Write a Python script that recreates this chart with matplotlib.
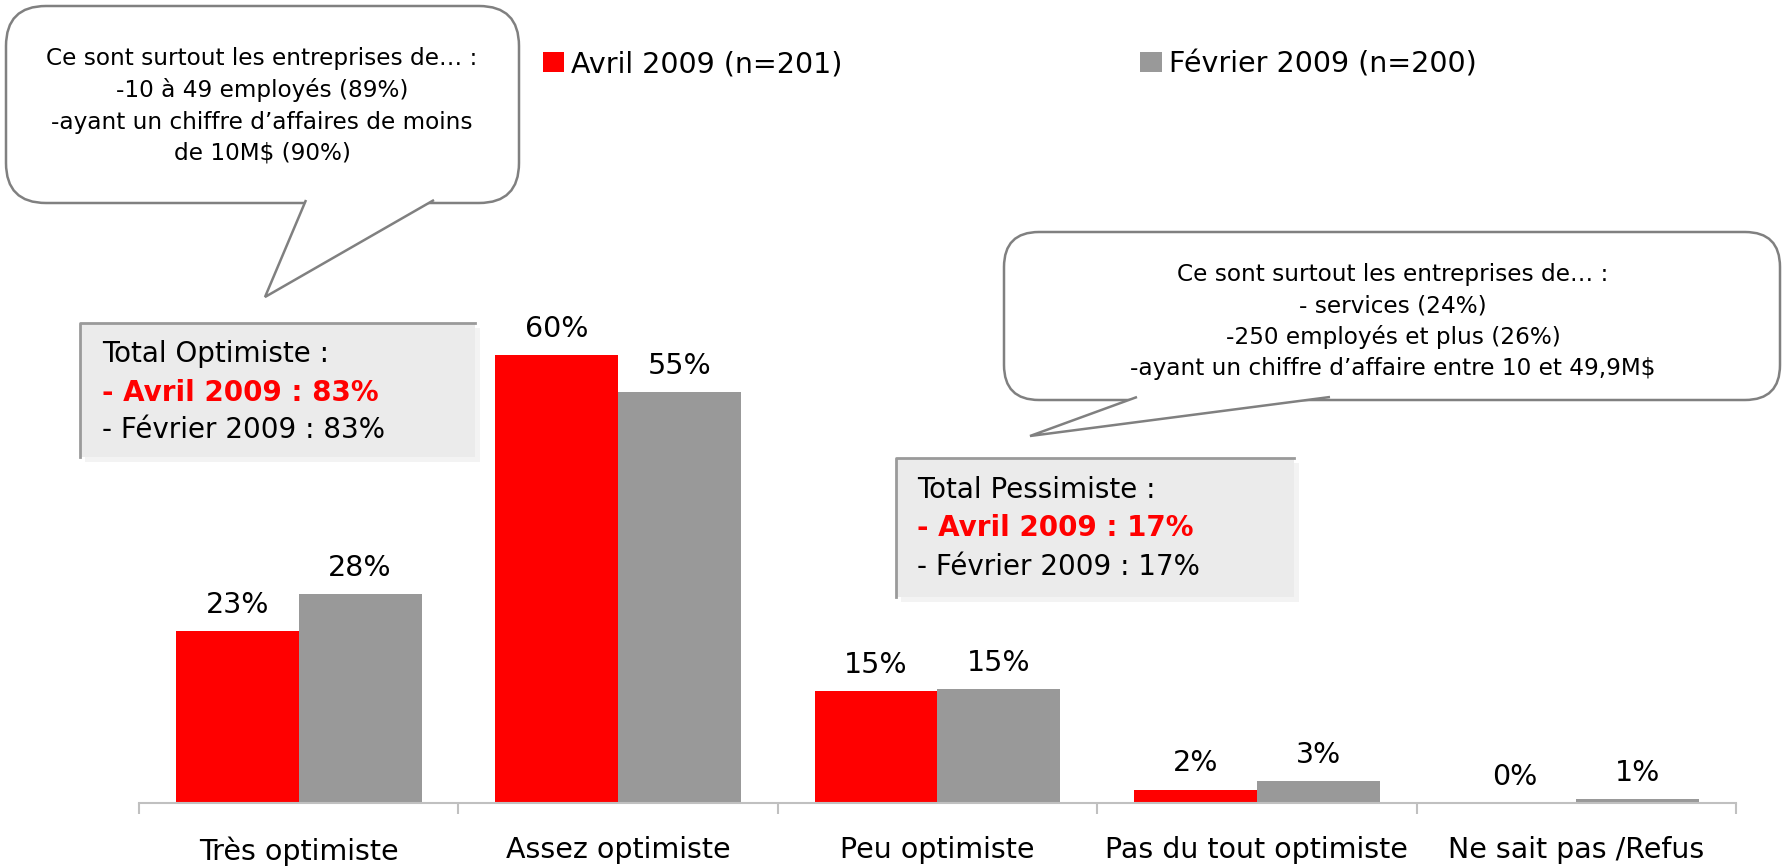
import numpy as np
import matplotlib.pyplot as plt
from matplotlib.patches import FancyBboxPatch, Polygon, Rectangle

# Categories and values (percent)
categories = ['Très optimiste', 'Assez optimiste', 'Peu optimiste',
              'Pas du tout optimiste', 'Ne sait pas /Refus']
avril = [23, 60, 15, 1.8, 0]
fevrier = [28, 55, 15.3, 2.9, 0.5]
avril_lbl = ['23%', '60%', '15%', '2%', '0%']
fevrier_lbl = ['28%', '55%', '15%', '3%', '1%']

bubble1_lines = ['Ce sont surtout les entreprises de… :',
                 '-10 à 49 employés (89%)',
                 '-ayant un chiffre d’affaires de moins',
                 'de 10M$ (90%)']
bubble2_lines = ['Ce sont surtout les entreprises de… :',
                 '- services (24%)',
                 '-250 employés et plus (26%)',
                 '-ayant un chiffre d’affaire entre 10 et 49,9M$']
box1_lines = ['Total Optimiste :', '- Avril 2009 : 83%', '- Février 2009 : 83%']
box2_lines = ['Total Pessimiste :', '- Avril 2009 : 17%', '- Février 2009 : 17%']

RED = '#ff0000'
GREY = '#999999'
W, H = 1783, 868

fig = plt.figure(figsize=(W / 100, H / 100), dpi=100)
ax = fig.add_axes([139 / W, (H - 803) / H, (1736 - 139) / W, 703 / H])

x = np.arange(len(categories))
w = 0.385
b1 = ax.bar(x - w / 2, avril, w, color=RED, label='Avril 2009 (n=201)')
b2 = ax.bar(x + w / 2, fevrier, w, color=GREY, label='Février 2009 (n=200)')

for bars, labels in ((b1, avril_lbl), (b2, fevrier_lbl)):
    for rect, lab in zip(bars, labels):
        ax.annotate(lab, (rect.get_x() + rect.get_width() / 2, rect.get_height()),
                    xytext=(0, 13), textcoords='offset points',
                    ha='center', va='baseline', fontsize=20.5)

ax.set_xlim(-0.5, 4.5)
ax.set_ylim(0, 94.1)
ax.set_yticks([])
for s in ('top', 'right', 'left'):
    ax.spines[s].set_visible(False)
ax.spines['bottom'].set_color('#c0c0c0')
ax.spines['bottom'].set_linewidth(1.5)
ax.set_xticks(x)
ax.set_xticklabels(categories, fontsize=20.5)
ax.tick_params(axis='x', which='major', length=0, pad=24)
ax.set_xticks(np.arange(-0.5, 5, 1), minor=True)
ax.tick_params(axis='x', which='minor', length=8, width=1.5, color='#c0c0c0')

ax.legend(loc='upper left', bbox_to_anchor=(543 / W, 1 - 50 / H),
          bbox_transform=fig.transFigure, ncol=2, frameon=False, fontsize=20.5,
          handlelength=0.75, handleheight=0.75, handletextpad=0.25,
          columnspacing=10.45, borderpad=0, borderaxespad=0)

# overlay in pixel coordinates for callouts
ov = fig.add_axes([0, 0, 1, 1])
ov.set_xlim(0, W)
ov.set_ylim(H, 0)
ov.axis('off')
ov.patch.set_alpha(0)


def bubble(x0, y0, x1, y1, ba, bb, tip, r, lines, cx, ys):
    ov.add_patch(FancyBboxPatch((x0, y0), x1 - x0, y1 - y0,
                                boxstyle=f'round,pad=0,rounding_size={r}',
                                fc='white', ec='#808080', lw=1.8))
    ov.add_patch(Polygon([(ba, y1 - 3), tip, (bb, y1 - 3)], closed=False,
                         fc='white', ec='#808080', lw=1.8))
    for t, yy in zip(lines, ys):
        ov.text(cx, yy, t, ha='center', va='center', fontsize=16.7)


def total_box(x0, y0, x1, y1, lines, tx, ys):
    ov.add_patch(Rectangle((x0 + 5, y0 + 5), x1 - x0, y1 - y0, fc='#f3f3f3', ec='none'))
    ov.add_patch(Rectangle((x0, y0), x1 - x0, y1 - y0, fc='#ebebeb', ec='none'))
    ov.plot([x0, x0, x1], [y1, y0, y0], color='#9a9a9a', lw=2)
    for i, (t, yy) in enumerate(zip(lines, ys)):
        if i == 1:
            ov.text(tx, yy, t, ha='left', va='center', fontsize=20,
                    color=RED, fontweight='bold')
        else:
            ov.text(tx, yy, t, ha='left', va='center', fontsize=20)


bubble(6, 6, 519, 203, 306, 434, (265, 297), 40, bubble1_lines, 262, [58, 90, 122, 153])
bubble(1004, 232, 1780, 400, 1137, 1330, (1030, 436), 35, bubble2_lines, 1393, [274, 306, 337, 369])
total_box(80, 323, 475, 457, box1_lines, 102, [354, 393, 430])
total_box(896, 458, 1294, 597, box2_lines, 917, [490, 528, 567])

plt.savefig('out.png', dpi=100)
